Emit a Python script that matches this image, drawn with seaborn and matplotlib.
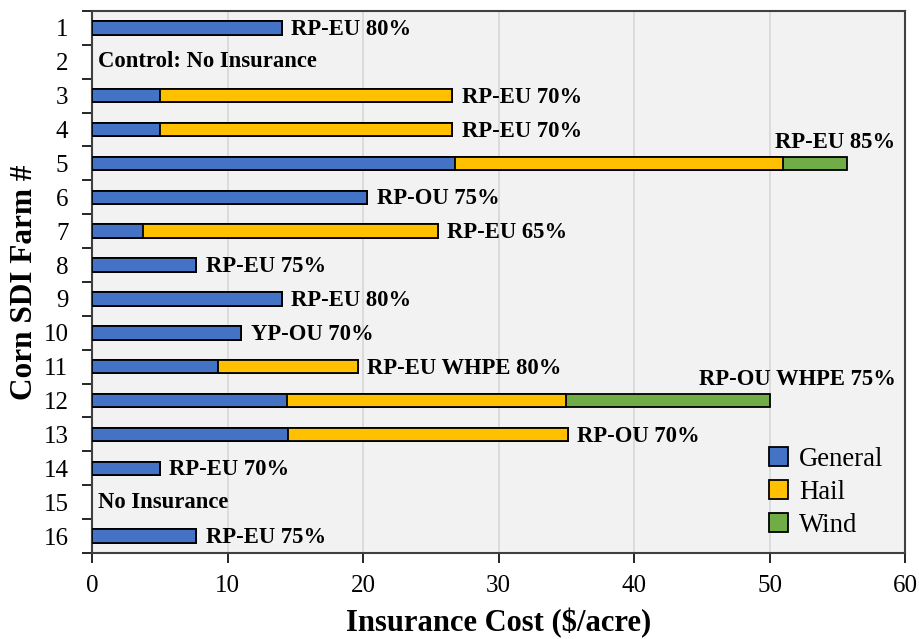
import numpy as np
import pandas as pd
import seaborn as sns
import matplotlib.pyplot as plt
from matplotlib.patches import Patch
from matplotlib.ticker import FixedLocator

# values ($/acre)
farms = [str(i) for i in range(1, 17)]
general = [14.0, 0.0, 5.0, 5.0, 26.8, 20.3, 3.8, 7.7, 14.0, 11.0, 9.3, 14.4, 14.5, 5.0, 0.0, 7.7]
hail = [0.0, 0.0, 21.6, 21.6, 24.2, 0.0, 21.7, 0.0, 0.0, 0.0, 10.3, 20.6, 20.6, 0.0, 0.0, 0.0]
wind = [0.0, 0.0, 0.0, 0.0, 4.7, 0.0, 0.0, 0.0, 0.0, 0.0, 0.0, 15.0, 0.0, 0.0, 0.0, 0.0]
policy = ["RP-EU 80%", "Control: No Insurance", "RP-EU 70%", "RP-EU 70%", "RP-EU 85%",
          "RP-OU 75%", "RP-EU 65%", "RP-EU 75%", "RP-EU 80%", "YP-OU 70%",
          "RP-EU WHPE 80%", "RP-OU WHPE 75%", "RP-OU 70%", "RP-EU 70%", "No Insurance",
          "RP-EU 75%"]

colors = {"General": "#4472C4", "Hail": "#FFC000", "Wind": "#70AD47"}

df = pd.DataFrame({"farm": farms, "General": general, "Hail": hail, "Wind": wind})
df["cum_hail"] = df["General"] + df["Hail"]
df["cum_wind"] = df["cum_hail"] + df["Wind"]

sns.set_style("white")
plt.rcParams['font.family'] = ['Liberation Serif', 'DejaVu Serif']
plt.rcParams['text.color'] = 'black'
plt.rcParams['axes.labelcolor'] = 'black'
plt.rcParams['xtick.color'] = 'black'
plt.rcParams['ytick.color'] = 'black'

fig, ax = plt.subplots(figsize=(9.2, 6.39), dpi=100)
fig.subplots_adjust(left=0.1, right=0.9837, top=0.9828, bottom=0.1346)
ax.set_facecolor("#F2F2F2")

# stacked bars by overlaying cumulative totals
for col, name in [("cum_wind", "Wind"), ("cum_hail", "Hail"), ("General", "General")]:
    sns.barplot(data=df, x=col, y="farm", order=farms, orient="h", color=colors[name],
                saturation=1, width=0.4, edgecolor="black", linewidth=1.3, ax=ax, zorder=3)

# drop empty bars (farms without insurance)
for p in list(ax.patches):
    if p.get_width() == 0:
        p.remove()

# policy labels
above = {4, 11}
for i, (txt, tot) in enumerate(zip(policy, df["cum_wind"])):
    if tot == 0:
        ax.text(0.45, i, txt, ha="left", va="center", fontsize=16.3, fontweight="bold", zorder=4)
    elif i in above:
        ax.text(59.3, i - 0.62, txt, ha="right", va="center", fontsize=16.3, fontweight="bold", zorder=4)
    else:
        ax.text(tot + 0.7, i + 0.05, txt, ha="left", va="center", fontsize=16.3, fontweight="bold", zorder=4)

ax.set_xlim(0, 60)
ax.set_ylim(15.5, -0.5)
ax.set_xticks(range(0, 61, 10))
ax.grid(axis="x", color="#D9D9D9", linewidth=1.3, zorder=0)
ax.set_axisbelow(True)

ax.yaxis.set_minor_locator(FixedLocator(np.arange(-0.5, 16, 1)))
ax.tick_params(axis="y", which="major", length=0, pad=17, labelsize=18)
ax.tick_params(axis="y", which="minor", length=7, width=1.4, color="#262626", direction="out", left=True)
ax.tick_params(axis="x", which="major", length=7, width=1.4, color="#262626", direction="out",
               bottom=True, pad=9, labelsize=18)

for s in ax.spines.values():
    s.set_visible(True)
    s.set_color("#404040")
    s.set_linewidth(1.5)

ax.set_xlabel("Insurance Cost ($/acre)", fontsize=22, fontweight="bold", labelpad=8)
ax.set_ylabel("Corn SDI Farm #", fontsize=22.5, fontweight="bold", labelpad=3)

handles = [Patch(facecolor=colors[k], edgecolor="black", linewidth=1.3, label=k)
           for k in ["General", "Hail", "Wind"]]
ax.legend(handles=handles, loc="lower right", bbox_to_anchor=(0.993, -0.002), frameon=False,
          fontsize=19.3, handlelength=0.7, handleheight=0.7, handletextpad=0.4,
          labelspacing=0.3, borderaxespad=0.2)

plt.savefig("out.png", dpi=100)
